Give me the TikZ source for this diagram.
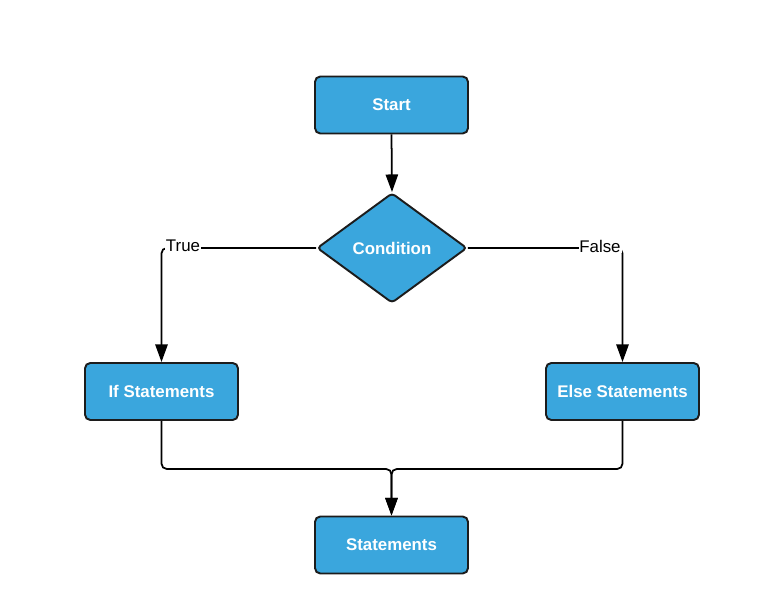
\documentclass[tikz,border=0pt]{standalone}
\usepackage{fontspec}
\setmainfont{Liberation Sans}
\definecolor{FCblue}{HTML}{3AA6DD}
\definecolor{FCedge}{HTML}{1C1C1C}
\usetikzlibrary{shapes.geometric, arrows.meta, positioning}
\tikzset{
   stepbox/.style={draw=FCedge, fill=FCblue, line width=1.1pt, rounded corners=3pt,
      minimum width=3.06cm, minimum height=1.14cm, text=white,
      font=\fontsize{9.6}{11}\selectfont\bfseries},
   decision/.style={diamond, draw=FCedge, fill=FCblue, line width=1.1pt, rounded corners=2pt,
      inner sep=0pt, minimum width=3cm, minimum height=2.2cm, text=white,
      font=\fontsize{9.6}{11}\selectfont\bfseries},
   flow/.style={draw=black, line width=1pt},
   arrow/.style={flow, -{Triangle[length=10pt, width=7pt]}},
   branch/.style={fill=white, inner sep=0.5pt, font=\fontsize{9.6}{11}\selectfont}
}

\begin{document}
\begin{tikzpicture}[x=0.02cm, y=-0.02cm]
   \useasboundingbox (0,0) rectangle (768,614);
   % Boxes
   \node[stepbox] (start) at (391.5,105) {Start};
   \node[decision] (cond) at (392,248) {Condition};
   \node[stepbox] (ifs) at (161.5,391.5) {If Statements};
   \node[stepbox] (elses) at (622.5,391.5) {Else Statements};
   \node[stepbox] (stmt) at (391.5,545) {Statements};
   % Start -> Condition
   \draw[arrow] (start.south) -- (cond.north);
   % Branches
   \draw[arrow, rounded corners=3pt] (cond.west) -| (ifs.north);
   \draw[arrow, rounded corners=3pt] (cond.east) -| (elses.north);
   \node[branch] (ltrue) at (183,246) {True};
   \node[branch] (lfalse) at (600,246) {False};
   % Merge
   \coordinate (merge) at (391.5,469);
   \draw[arrow, rounded corners=3pt] (ifs.south) |- (merge) -- (stmt.north);
   \draw[arrow, rounded corners=3pt] (elses.south) |- (merge) -- (stmt.north);
\end{tikzpicture}
\end{document}
